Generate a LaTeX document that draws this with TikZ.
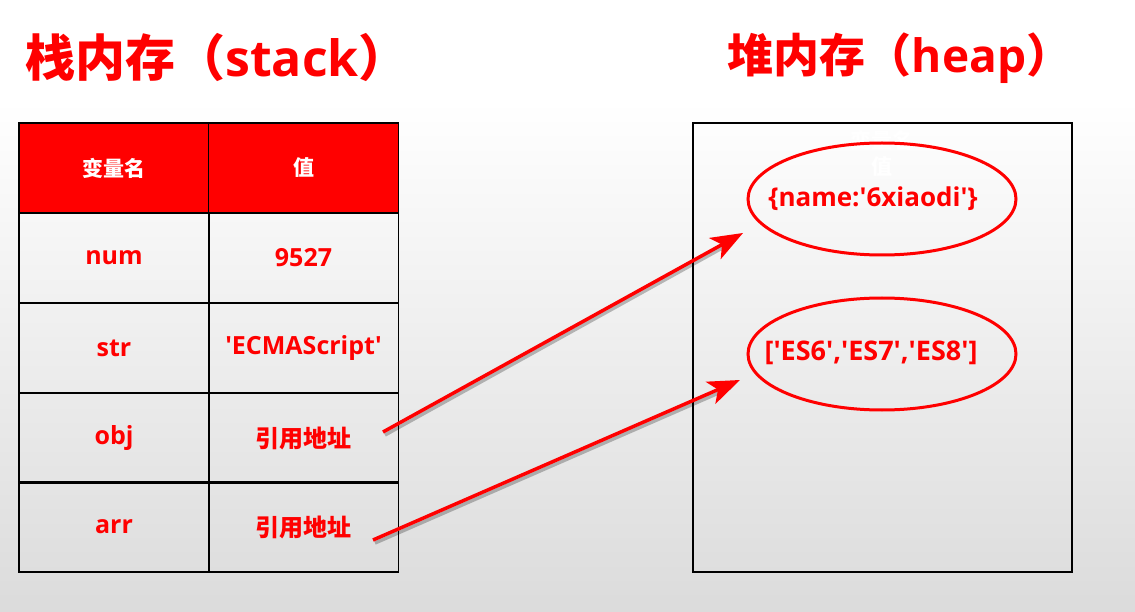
\documentclass[tikz,border=0pt]{standalone}
\usepackage{fontspec}
\setmainfont{Open Sans}
\newfontfamily\cjk{Noto Sans CJK SC}
\usetikzlibrary{arrows.meta,shapes.geometric}
\definecolor{memred}{RGB}{255,0,0}
\newcommand{\sq}{\textquotesingle}

\begin{document}
\begin{tikzpicture}[x=1pt, y=-1pt,
    cell/.style={draw=black, line width=1.6pt, minimum width=190pt, minimum height=90pt,
                 inner sep=0pt, text=memred, font=\bfseries\fontsize{25}{27}\selectfont},
    headcell/.style={cell, fill=memred, text=white, font=\cjk\bfseries\fontsize{21}{24}\selectfont},
    title/.style={text=memred, font=\bfseries\fontsize{50}{54}\selectfont},
    blob/.style={ellipse, draw=memred, line width=3pt, minimum width=268pt, minimum height=112pt},
    ptr/.style={->, memred, line width=3.5pt},
    ptrshadow/.style={line width=3.5pt, black, opacity=0.25}]
    \tikzset{>={Stealth[length=32pt,width=24pt,inset=8pt]}}
    \useasboundingbox (0,0) rectangle (1135,612);
    % background
    \fill[white] (0,0) rectangle (1135,100);
    \shade[top color=white, bottom color=black!14] (0,100) rectangle (1135,612);

    % titles
    \node[title] (stacktitle) at (217,58) {{\cjk 栈内存（}stack{\cjk ）}};
    \node[title, font=\bfseries\fontsize{46}{50}\selectfont] (heaptitle) at (900,58) {{\cjk 堆内存（}heap{\cjk ）}};

    % stack table
    \node[headcell] (namehead) at (114,168) {变量名};
    \node[headcell] (valhead) at (303.5,168) {值};
    \node[cell] (numname) at (114,258) {num};
    \node[cell] (numval) at (303.5,258) {9527};
    \node[cell] (strname) at (114,348) {str};
    \node[cell] (strval) at (303.5,348) {\sq ECMAScript\sq};
    \node[cell, font=\cjk\bfseries\fontsize{24}{26}\selectfont] (objval) at (303.5,438) {引用地址};
    \node[cell] (objname) at (114,438) {obj};
    \node[cell] (arrname) at (114,527) {arr};
    \node[cell, font=\cjk\bfseries\fontsize{24}{26}\selectfont] (arrval) at (303.5,527) {引用地址};

    % heap box
    \node[draw=black, line width=1.6pt, minimum width=379pt, minimum height=449pt] (heap) at (882.5,347.5) {};
    \node[text=white, font=\cjk\bfseries\fontsize{21}{24}\selectfont] (ghostname) at (882,140) {变量名};
    \node[text=white, font=\cjk\bfseries\fontsize{21}{24}\selectfont] (ghostval) at (882,167) {值};
    \node[blob] (objblob) at (882,199) {};
    \node[text=memred, font=\bfseries\fontsize{26}{28}\selectfont] (objdata) at (873,199) {\{name:\sq 6xiaodi\sq\}};
    \node[blob] (arrblob) at (882,354) {};
    \node[text=memred, font=\bfseries\fontsize{27}{29}\selectfont] (arrdata) at (871,353) {[\sq ES6\sq,\sq ES7\sq,\sq ES8\sq]};

    % pointers
    \coordinate (objfrom) at (383,432);
    \coordinate (objto) at (743,233);
    \coordinate (arrfrom) at (373,540);
    \coordinate (arrto) at (740,380);
    \draw[ptrshadow] ([shift={(2,3)}]objfrom) -- ([shift={(-10,9)}]objto);
    \draw[ptrshadow] ([shift={(2,3)}]arrfrom) -- ([shift={(-10,8)}]arrto);
    \draw[ptr] (objfrom) -- (objto);
    \draw[ptr] (arrfrom) -- (arrto);
\end{tikzpicture}
\end{document}
